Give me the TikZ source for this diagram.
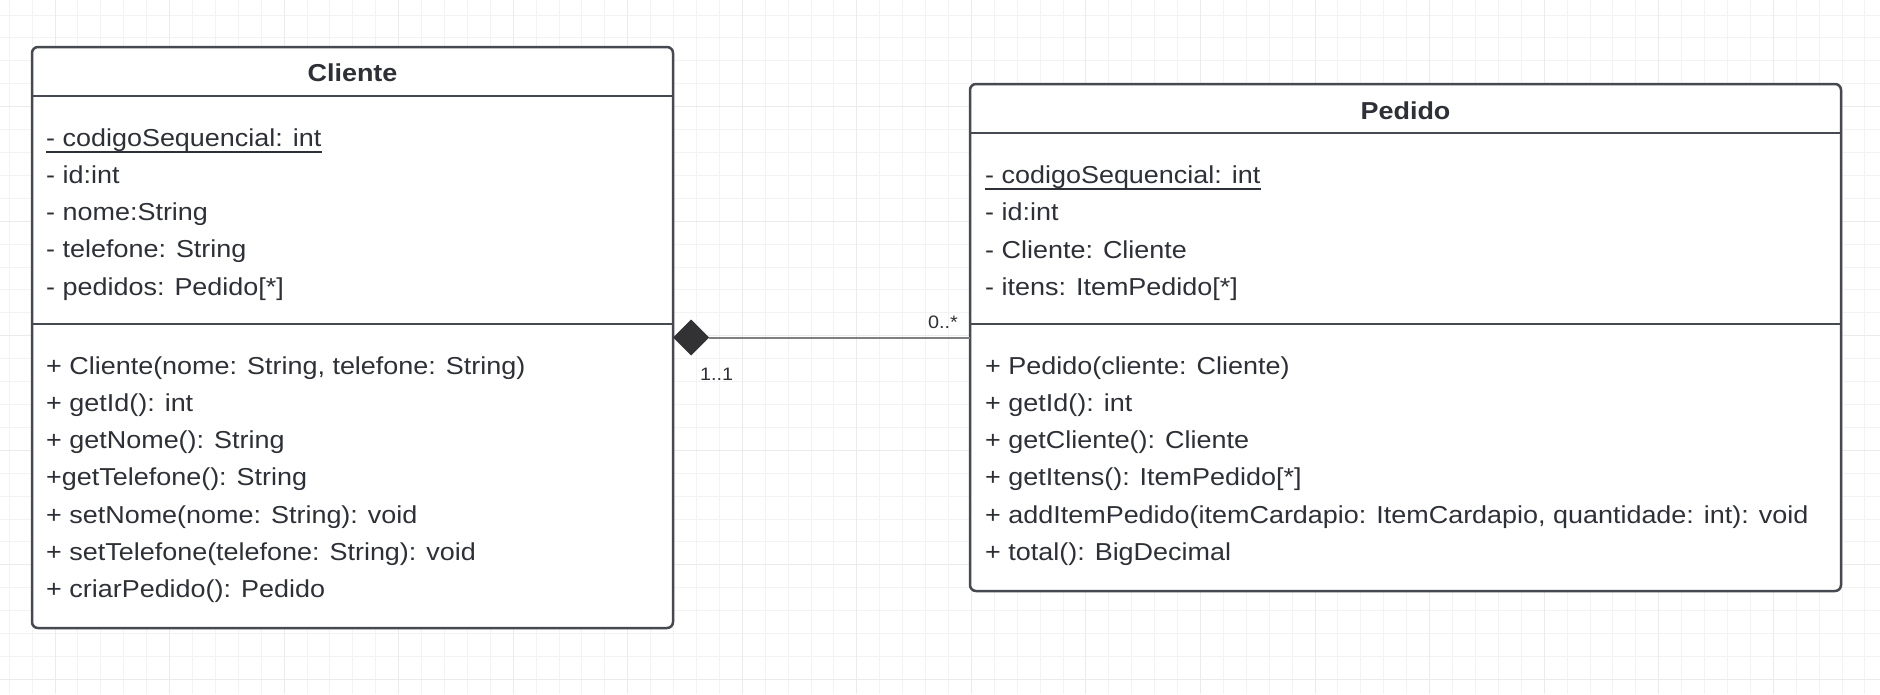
\documentclass[tikz,border=0pt]{standalone}
\usepackage{fontspec}
\setmainfont[FakeStretch=1.10]{Liberation Sans}
\usetikzlibrary{shapes.geometric}
\definecolor{txt}{RGB}{46,48,55}
\definecolor{edge}{RGB}{70,73,80}
\definecolor{gridminor}{RGB}{243,243,243}
\definecolor{gridmajor}{RGB}{235,235,235}
\definecolor{conncol}{RGB}{128,128,128}
\definecolor{diacol}{RGB}{50,50,52}
\begin{document}
\begin{tikzpicture}[x=1pt,y=-1pt,
  classbox/.style={draw=edge, line width=2.5pt, fill=white, rounded corners=6pt, anchor=north west, inner sep=0pt, outer sep=0pt},
  member/.style={anchor=base west, inner sep=0pt, text=txt, font=\fontsize{24.5}{29}\selectfont},
  title/.style={anchor=base, inner sep=0pt, text=txt, font=\fontsize{24.5}{29}\selectfont\bfseries},
  mult/.style={inner sep=0pt, text=txt, font=\fontsize{18}{22}\selectfont},
  divider/.style={draw=edge, line width=2.5pt},
  conn/.style={draw=conncol, line width=2pt},
  minorgrid/.style={draw=gridminor, line width=1pt},
  majorgrid/.style={draw=gridmajor, line width=1pt},
]
\useasboundingbox (0,0) rectangle (1880,694);
\fill[white] (0,0) rectangle (1880,694);
% grid
\foreach \i in {0,...,81} \draw[minorgrid] ({9.2+22.91*\i},0) -- ++(0,694);
\foreach \j in {0,...,29} \draw[minorgrid] (0,{15+22.91*\j}) -- ++(1880,0);
\foreach \i in {0,...,16} \draw[majorgrid] ({55+114.55*\i},0) -- ++(0,694);
\foreach \j in {0,...,5} \draw[majorgrid] (0,{106.6+114.55*\j}) -- ++(1880,0);

% Cliente class
\node[classbox, minimum width=641pt, minimum height=581pt] (cliente) at (32,47) {};
\draw[divider] ([yshift=-49pt]cliente.north west) -- ([yshift=-49pt]cliente.north east);
\draw[divider] ([yshift=-277pt]cliente.north west) -- ([yshift=-277pt]cliente.north east);
\node[title] (ctitle) at ([yshift=-34pt]cliente.north) {Cliente};
\node[member] (ca1) at (46,146) {- codigoSequencial: int};
\draw[draw=txt, line width=1.8pt] ([yshift=-6pt]ca1.base west) -- ([yshift=-6pt]ca1.base east);
\node[member] (ca2) at (46,183.3) {- id:int};
\node[member] (ca3) at (46,220.6) {- nome:String};
\node[member] (ca4) at (46,257.9) {- telefone: String};
\node[member] (ca5) at (46,295.2) {- pedidos: Pedido[*]};
\node[member] (cm1) at (46,374) {+ Cliente(nome: String, telefone: String)};
\node[member] (cm2) at (46,411.3) {+ getId(): int};
\node[member] (cm3) at (46,448.6) {+ getNome(): String};
\node[member] (cm4) at (46,485.9) {+getTelefone(): String};
\node[member] (cm5) at (46,523.2) {+ setNome(nome: String): void};
\node[member] (cm6) at (46,560.5) {+ setTelefone(telefone: String): void};
\node[member] (cm7) at (46,597.8) {+ criarPedido(): Pedido};

% Pedido class
\node[classbox, minimum width=871pt, minimum height=507pt] (pedido) at (970,84) {};
\draw[divider] ([yshift=-49pt]pedido.north west) -- ([yshift=-49pt]pedido.north east);
\draw[divider] ([yshift=-240pt]pedido.north west) -- ([yshift=-240pt]pedido.north east);
\node[title] (ptitle) at ([yshift=-35pt]pedido.north) {Pedido};
\node[member] (pa1) at (985,183) {- codigoSequencial: int};
\draw[draw=txt, line width=1.8pt] ([yshift=-6pt]pa1.base west) -- ([yshift=-6pt]pa1.base east);
\node[member] (pa2) at (985,220.5) {- id:int};
\node[member] (pa3) at (985,258) {- Cliente: Cliente};
\node[member] (pa4) at (985,295.5) {- itens: ItemPedido[*]};
\node[member] (pm1) at (985,374) {+ Pedido(cliente: Cliente)};
\node[member] (pm2) at (985,411.3) {+ getId(): int};
\node[member] (pm3) at (985,448.6) {+ getCliente(): Cliente};
\node[member] (pm4) at (985,485.9) {+ getItens(): ItemPedido[*]};
\node[member] (pm5) at (985,523.2) {+ addItemPedido(itemCardapio: ItemCardapio, quantidade: int): void};
\node[member] (pm6) at (985,560.5) {+ total(): BigDecimal};

% composition
\node[diamond, aspect=1, fill=diacol, inner sep=0pt, outer sep=0pt, minimum size=36pt, anchor=west] (dia) at (cliente.east) {};
\draw[conn] (dia.east) -- (pedido.west);
\node[mult, anchor=base east] (m1) at (958,328) {0..*};
\node[mult, anchor=base west] (m2) at (700,380) {1..1};
\end{tikzpicture}
\end{document}
